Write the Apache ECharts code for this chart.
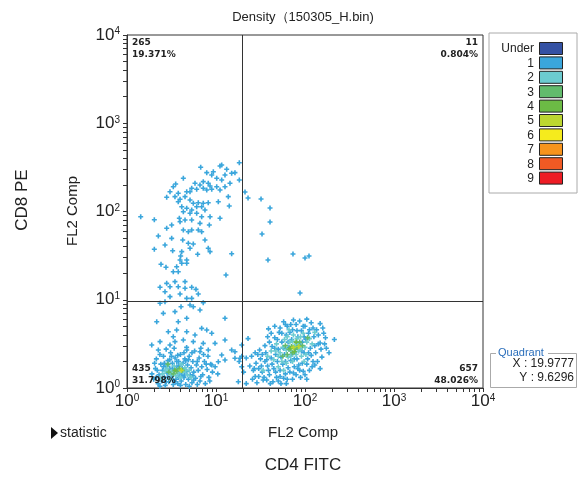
<!DOCTYPE html>
<html>
<head>
<meta charset="utf-8">
<script src="https://cdn.jsdelivr.net/npm/echarts@6/dist/echarts.min.js"></script>
<style>
html, body { margin: 0; padding: 0; background: #fff; }
#main { width: 579px; height: 477px; }
</style>
</head>
<body>
<div id="main"></div>
<script>
// all positions are in decades (log10 of the channel value)
var quadrantX = 19.9777;
var quadrantY = 9.6296;
var quadrantCounts = ['265', '11', '435', '657'];
var quadrantPercents = ['19.371%', '0.804%', '31.798%', '48.026%'];
var levelNames = ['Under', '1', '2', '3', '4', '5', '6', '7', '8', '9'];
var levelColors = ['#3451a3', '#3aa6dc', '#6ccbd0', '#62bb6c', '#6cbb45', '#bcd631', '#f5eb1d', '#f7941d', '#f15a24', '#ed1c24'];
var decadeLabels = [0, 1, 2, 3, 4];

// upper left population (CD8+) and the sparse trail below it
var upperPoints = [
  [0.828,2.501],[1.045,2.516],[1.064,2.527],[1.262,2.553],[0.633,2.376],[0.547,2.312],[0.896,2.440],[0.952,2.414],
  [0.970,2.451],[1.120,2.478],[1.176,2.433],[1.213,2.440],[1.101,2.414],[1.008,2.376],[1.064,2.357],[1.157,2.320],
  [1.262,2.357],[0.857,2.338],[0.913,2.320],[0.933,2.289],[0.820,2.300],[0.764,2.320],[0.727,2.263],[0.671,2.224],
  [0.708,2.224],[0.783,2.252],[0.857,2.263],[0.896,2.244],[0.952,2.252],[1.008,2.281],[1.045,2.244],[1.101,2.281],
  [1.138,2.168],[1.026,2.111],[0.520,2.281],[0.483,2.224],[0.576,2.206],[0.446,2.161],[0.539,2.168],[0.596,2.138],
  [0.652,2.168],[0.708,2.130],[0.745,2.093],[0.801,2.100],[0.857,2.093],[0.913,2.100],[0.783,2.054],[0.839,2.054],
  [0.876,2.017],[0.727,2.017],[0.671,2.036],[0.615,2.054],[0.576,2.111],[0.633,1.998],[0.708,1.980],[0.783,1.980],
  [0.839,1.941],[0.933,1.941],[1.045,1.923],[1.149,2.062],[0.820,1.866],[0.727,1.904],[0.652,1.904],[0.596,1.884],
  [0.588,1.923],[0.154,1.941],[0.307,1.907],[0.502,1.847],[0.446,1.810],[0.633,1.790],[0.689,1.771],[0.727,1.790],
  [0.801,1.790],[0.839,1.771],[0.925,1.847],[0.352,1.722],[0.502,1.696],[0.626,1.677],[0.876,1.677],[0.689,1.640],
  [0.745,1.632],[0.427,1.620],[0.708,1.583],[0.913,1.583],[0.933,1.545],[0.307,1.572],[0.513,1.556],[0.615,1.545],
  [0.603,1.496],[0.794,1.515],[1.176,1.522],[0.596,1.450],[0.671,1.450],[0.615,1.413],[0.382,1.402],[0.438,1.368],
  [0.558,1.374],[0.671,1.413],[0.520,1.318],[0.576,1.318],[1.112,1.280],[0.539,1.205],[0.652,1.205],[0.446,1.186],
  [0.371,1.141],[0.483,1.148],[0.576,1.148],[0.652,1.130],[0.727,1.141],[0.775,1.118],[0.427,1.091],[0.596,1.065],
  [0.801,1.065],[0.483,1.035],[0.671,1.016],[0.727,1.016],[0.371,0.960],[0.427,0.978],[0.607,0.921],[0.708,0.941],
  [0.857,0.967],[0.539,0.865],[0.576,0.751],[0.334,0.751],[0.408,0.846],[0.671,0.790],[0.745,0.921],[0.820,0.884],
  [1.101,0.790],[0.464,0.638],[0.520,0.581],[0.671,0.638],[0.764,0.601],[0.839,0.676],[0.896,0.657],[0.952,0.620],
  [0.558,0.657],[0.745,0.525],[0.633,0.544],[0.539,0.525],[0.483,0.487],[0.371,0.525],[0.278,0.487],[0.857,0.506],
  [0.989,0.506],[1.101,0.544],[0.820,0.411],[0.913,0.431],[1.064,0.374],[1.176,0.431],[1.213,0.411],[0.352,0.431],
  [0.671,0.431],[1.213,0.337],[1.270,0.337],[1.026,0.298],[1.101,0.317],[0.952,0.261],[1.251,0.071],[1.289,0.241]
];
// upper right stragglers
var rightStrays = [
  [1.326,2.221],[1.360,2.153],[1.506,2.142],[1.607,2.040],[1.607,1.881],[1.517,1.745],[1.865,1.518],[1.584,1.450],
  [2.000,1.473],[2.045,1.496],[1.944,1.076],[1.289,0.487]
];
// lower left population (double negative)
var lowLeft1 = [
  [0.30,0.10],[0.32,0.22],[0.33,0.33],[0.35,0.05],[0.36,0.15],[0.38,0.27],[0.39,0.08],[0.40,0.20],[0.41,0.36],[0.42,0.12],
  [0.43,0.03],[0.44,0.25],[0.45,0.17],[0.46,0.31],[0.47,0.07],[0.48,0.22],[0.49,0.40],[0.50,0.13],[0.51,0.28],[0.52,0.04],
  [0.53,0.19],[0.54,0.34],[0.55,0.10],[0.56,0.24],[0.57,0.05],[0.58,0.30],[0.59,0.16],[0.60,0.38],[0.61,0.08],[0.62,0.22],
  [0.63,0.28],[0.64,0.12],[0.65,0.33],[0.66,0.04],[0.67,0.19],[0.68,0.26],[0.69,0.10],[0.70,0.36],[0.71,0.15],[0.72,0.23],
  [0.73,0.06],[0.74,0.30],[0.75,0.18],[0.76,0.42],[0.77,0.11],[0.78,0.26],[0.80,0.20],[0.81,0.34],[0.82,0.08],[0.84,0.24],
  [0.85,0.15],[0.87,0.30],[0.88,0.05],[0.90,0.21],[0.92,0.12],[0.94,0.27],[0.96,0.18],[0.37,0.38],[0.44,0.44],[0.53,0.45],
  [0.58,0.12],[0.64,0.40],[0.70,0.02],[0.79,0.04],[0.86,0.38],[0.99,0.24],[1.02,0.16],[0.34,0.20],[0.48,0.32],[0.62,0.14],
  [0.57,0.37],[0.67,0.46],[0.75,0.09],[0.42,0.28],[0.52,0.09],[0.66,0.31],[0.73,0.40],[0.83,0.45],[0.91,0.36],[0.28,0.16],
  [0.31,0.28],[0.33,0.12],[0.37,0.02],[0.41,0.24],[0.46,0.12],[0.50,0.36],[0.54,0.07],[0.56,0.30],[0.60,0.03],[0.65,0.15],
  [0.69,0.32],[0.74,0.14],[0.79,0.30],[0.83,0.13],[0.89,0.27],[0.93,0.08],[0.58,0.25],[0.51,0.22],[0.44,0.07]
];
var lowLeft2 = [
  [0.40,0.16],[0.45,0.22],[0.48,0.10],[0.50,0.19],[0.53,0.25],[0.55,0.14],[0.57,0.21],[0.60,0.12],[0.61,0.27],[0.63,0.18],
  [0.65,0.23],[0.68,0.15],[0.46,0.26],[0.38,0.11],[0.70,0.20],[0.72,0.12],[0.43,0.19],[0.58,0.17],[0.66,0.20],[0.49,0.15]
];
var lowLeft3 = [[0.47,0.18],[0.52,0.16],[0.56,0.19],[0.59,0.22],[0.62,0.20],[0.46,0.27]];
var lowLeft4 = [[0.54,0.20]];
var lowLeft5 = [[0.61,0.20]];
// lower right population (CD4+)
var lowRight1 = [
  [1.29,0.36],[1.34,0.05],[1.36,0.56],[1.40,0.36],[1.42,0.20],[1.44,0.13],[1.48,0.22],[1.49,0.43],[1.53,0.09],[1.55,0.30],
  [1.59,0.67],[1.64,0.07],[1.76,0.75],[1.76,0.11],[1.87,0.77],[1.87,0.17],[1.98,0.19],[2.02,0.78],[2.08,0.24],[2.17,0.73],
  [2.17,0.22],[2.21,0.62],[2.24,0.45],[2.17,0.51],[1.45,0.28],[1.50,0.33],[1.52,0.18],[1.56,0.40],[1.58,0.25],[1.60,0.15],
  [1.62,0.34],[1.63,0.47],[1.65,0.22],[1.66,0.57],[1.68,0.12],[1.69,0.30],[1.70,0.44],[1.71,0.63],[1.72,0.20],[1.74,0.52],
  [1.75,0.27],[1.77,0.38],[1.78,0.16],[1.79,0.60],[1.80,0.70],[1.81,0.23],[1.82,0.46],[1.84,0.31],[1.85,0.55],[1.86,0.66],
  [1.88,0.24],[1.89,0.41],[1.90,0.72],[1.91,0.33],[1.92,0.58],[1.94,0.20],[1.95,0.48],[1.96,0.65],[1.97,0.28],[1.99,0.40],
  [2.00,0.70],[2.01,0.55],[2.03,0.33],[2.04,0.62],[2.06,0.45],[2.07,0.74],[2.09,0.30],[2.10,0.58],[2.12,0.40],[2.13,0.66],
  [2.15,0.50],[2.19,0.35],[2.20,0.68],[2.23,0.57],[1.38,0.25],[1.41,0.10],[1.46,0.06],[1.47,0.38],[1.51,0.25],[1.54,0.12],
  [1.57,0.32],[1.61,0.05],[1.63,0.27],[1.67,0.38],[1.70,0.08],[1.73,0.35],[1.76,0.45],[1.78,0.30],[1.80,0.10],[1.83,0.18],
  [1.85,0.38],[1.90,0.15],[1.93,0.26],[1.97,0.52],[2.00,0.15],[2.05,0.20],[2.11,0.26],[2.14,0.30],[1.66,0.70],[1.72,0.68],
  [1.83,0.63],[1.94,0.76],[2.09,0.68],[2.15,0.60],[1.60,0.52],[1.55,0.48],[1.73,0.05],[2.27,0.40],[2.33,0.55],[2.02,0.10],
  [1.26,0.30],[1.31,0.18],[1.34,0.34],[1.58,0.58],[1.62,0.62],[1.69,0.55],[1.74,0.62],[1.78,0.72],[1.84,0.72],[1.91,0.65],
  [1.98,0.70],[2.05,0.66],[2.11,0.48],[2.18,0.44],[2.22,0.50],[2.07,0.37],[2.02,0.27],[1.95,0.12],[1.86,0.10],[1.79,0.05],
  [1.67,0.18],[1.59,0.20],[1.52,0.38],[1.44,0.40],[1.43,0.22],[1.48,0.13],[1.57,0.09],[1.66,0.45],[1.72,0.13],[1.81,0.52],
  [1.88,0.33],[1.96,0.42],[2.04,0.40],[1.92,0.22],[1.99,0.58]
];
var lowRight2 = [
  [1.62,0.42],[1.68,0.50],[1.72,0.40],[1.74,0.30],[1.77,0.55],[1.79,0.43],[1.81,0.35],[1.83,0.52],[1.84,0.42],[1.86,0.30],
  [1.87,0.60],[1.88,0.48],[1.90,0.38],[1.92,0.50],[1.93,0.42],[1.95,0.58],[1.96,0.36],[1.98,0.62],[2.00,0.46],[2.02,0.52],
  [2.05,0.56],[2.08,0.50],[1.70,0.24],[1.76,0.20],[1.65,0.32],[1.58,0.36],[1.99,0.30],[2.11,0.63],[1.82,0.66],[1.53,0.20],
  [1.70,0.36],[1.75,0.46],[1.80,0.58],[1.84,0.36],[1.91,0.56],[1.95,0.44],[2.01,0.38],[1.86,0.53],[1.79,0.28],[1.67,0.42]
];
var lowRight3 = [
  [1.78,0.48],[1.82,0.44],[1.85,0.47],[1.86,0.40],[1.89,0.44],[1.91,0.46],[1.94,0.52],[1.80,0.38],[1.97,0.48],[1.75,0.36],
  [2.03,0.57]
];
var lowRight4 = [[1.84,0.45],[1.90,0.52],[1.88,0.41]];
var lowRight5 = [[1.87,0.46],[1.93,0.47]];

var pointsByLevel = [
  [],
  upperPoints.concat(rightStrays, lowLeft1, lowRight1),
  lowLeft2.concat(lowRight2),
  lowLeft3.concat(lowRight3),
  lowLeft4.concat(lowRight4),
  lowLeft5.concat(lowRight5)
];

var GRID = { left: 127, top: 35, right: 96, bottom: 89 };
var W = 579, H = 477;
var plotW = W - GRID.left - GRID.right;

// minor ticks at 1..9 x 10^d
var tickValues = [];
for (var d = 0; d < 4; d++) {
  for (var k = 1; k < 10; k++) tickValues.push(d + Math.log10(k));
}
tickValues.push(4);

var plus = 'path://M1.7,0H3.3V1.7H5V3.3H3.3V5H1.7V3.3H0V1.7H1.7Z';

function powLabel(v) {
  return '10{s|' + Math.round(v) + '}';
}
var labelRich = {
  s: { fontSize: 10, color: '#222', fontFamily: 'Liberation Sans', padding: [0, 0, 7, 0] }
};

var chart = echarts.init(document.getElementById('main'));

var series = [];
for (var i = 1; i < pointsByLevel.length; i++) {
  series.push({
    type: 'scatter',
    name: levelNames[i],
    symbol: plus,
    symbolSize: 5,
    itemStyle: { color: levelColors[i], opacity: 1 },
    data: pointsByLevel[i],
    animation: false,
    silent: true
  });
}
// quadrant lines
series.push({
  type: 'scatter',
  data: [],
  markLine: {
    silent: true,
    symbol: 'none',
    label: { show: false },
    animation: false,
    lineStyle: { color: '#333', width: 1, type: 'solid' },
    data: [{ xAxis: Math.log10(quadrantX) }, { yAxis: Math.log10(quadrantY) }]
  }
});

var quadText = [];
var qFont = 'bold 9px "DejaVu Sans"';
[[0, 'left', GRID.top + 8], [1, 'right', GRID.top + 8], [2, 'left', H - GRID.bottom - 19], [3, 'right', H - GRID.bottom - 19]].forEach(function (q) {
  var x = q[1] === 'left' ? GRID.left + 5 : GRID.left + plotW - 5;
  quadText.push({ type: 'text', x: x, y: q[2], z: 10,
    style: { text: quadrantCounts[q[0]], align: q[1], verticalAlign: 'middle', font: qFont, fill: '#222' } });
  quadText.push({ type: 'text', x: x, y: q[2] + 12, z: 10,
    style: { text: quadrantPercents[q[0]], align: q[1], verticalAlign: 'middle', font: qFont, fill: '#222' } });
});

// density legend box
var legendItems = [{ type: 'rect', shape: { x: 489, y: 33, width: 88, height: 160 }, style: { fill: '#fff', stroke: '#aaa', lineWidth: 1 } }];
levelNames.forEach(function (n, i) {
  var y = 42 + i * 14.4;
  legendItems.push({ type: 'rect', shape: { x: 539.5, y: y + 0.5, width: 23, height: 12 }, style: { fill: levelColors[i], stroke: '#222', lineWidth: 1 } });
  legendItems.push({ type: 'text', x: 534, y: y + 7, style: { text: n, align: 'right', verticalAlign: 'middle', font: '12px "Liberation Sans"', fill: '#222' } });
});

var quadBox = [
  { type: 'rect', shape: { x: 490.5, y: 353.5, width: 86, height: 34 }, style: { fill: '#fff', stroke: '#aaa', lineWidth: 1 } },
  { type: 'rect', shape: { x: 496, y: 347, width: 52, height: 12 }, style: { fill: '#fff' } },
  { type: 'text', x: 498, y: 353, style: { text: 'Quadrant', verticalAlign: 'middle', font: '11px "Liberation Sans"', fill: '#2a6ebb' } },
  { type: 'text', x: 574, y: 364, style: { text: 'X : ' + quadrantX, align: 'right', verticalAlign: 'middle', font: '12px "Liberation Sans"', fill: '#222' } },
  { type: 'text', x: 574, y: 378, style: { text: 'Y : ' + quadrantY, align: 'right', verticalAlign: 'middle', font: '12px "Liberation Sans"', fill: '#222' } }
];

var otherText = [
  { type: 'text', x: 303, y: 17, style: { text: 'Density（150305_H.bin)', align: 'center', verticalAlign: 'middle', font: '13px "Liberation Sans"', fill: '#222' } },
  { type: 'polygon', shape: { points: [[51, 427], [51, 439], [58, 433]] }, style: { fill: '#111' } },
  { type: 'text', x: 60, y: 433, style: { text: 'statistic', verticalAlign: 'middle', font: '14px "Liberation Sans"', fill: '#222' } },
  { type: 'text', x: 303, y: 433, style: { text: 'FL2 Comp', align: 'center', verticalAlign: 'middle', font: '15px "Liberation Sans"', fill: '#222' } },
  { type: 'text', x: 303, y: 465, style: { text: 'CD4 FITC', align: 'center', verticalAlign: 'middle', font: '17px "Liberation Sans"', fill: '#222' } },
  { type: 'text', x: 73, y: 211, rotation: Math.PI / 2, style: { text: 'FL2 Comp', align: 'center', verticalAlign: 'middle', font: '15px "Liberation Sans"', fill: '#222' } },
  { type: 'text', x: 22, y: 200, rotation: Math.PI / 2, style: { text: 'CD8 PE', align: 'center', verticalAlign: 'middle', font: '17px "Liberation Sans"', fill: '#222' } }
];

chart.setOption({
  backgroundColor: '#fff',
  animation: false,
  grid: {
    left: GRID.left, top: GRID.top, right: GRID.right, bottom: GRID.bottom,
    show: true, borderColor: '#333', borderWidth: 1, backgroundColor: '#fff'
  },
  xAxis: {
    type: 'value', min: 0, max: 4, interval: 1,
    splitLine: { show: false },
    axisLine: { show: true, lineStyle: { color: '#333' } },
    axisTick: { show: true, length: 4, customValues: tickValues, lineStyle: { color: '#333' } },
    axisLabel: {
      customValues: decadeLabels, formatter: powLabel, rich: labelRich,
      fontSize: 17, color: '#222', fontFamily: 'Liberation Sans', margin: 5
    }
  },
  yAxis: {
    type: 'value', min: 0, max: 4, interval: 1,
    splitLine: { show: false },
    axisLine: { show: true, lineStyle: { color: '#333' } },
    axisTick: { show: true, length: 4, customValues: tickValues, lineStyle: { color: '#333' } },
    axisLabel: {
      customValues: decadeLabels, formatter: powLabel, rich: labelRich,
      fontSize: 17, color: '#222', fontFamily: 'Liberation Sans', margin: 7
    }
  },
  series: series,
  graphic: quadText.concat(legendItems, quadBox, otherText)
});
</script>
</body>
</html>
